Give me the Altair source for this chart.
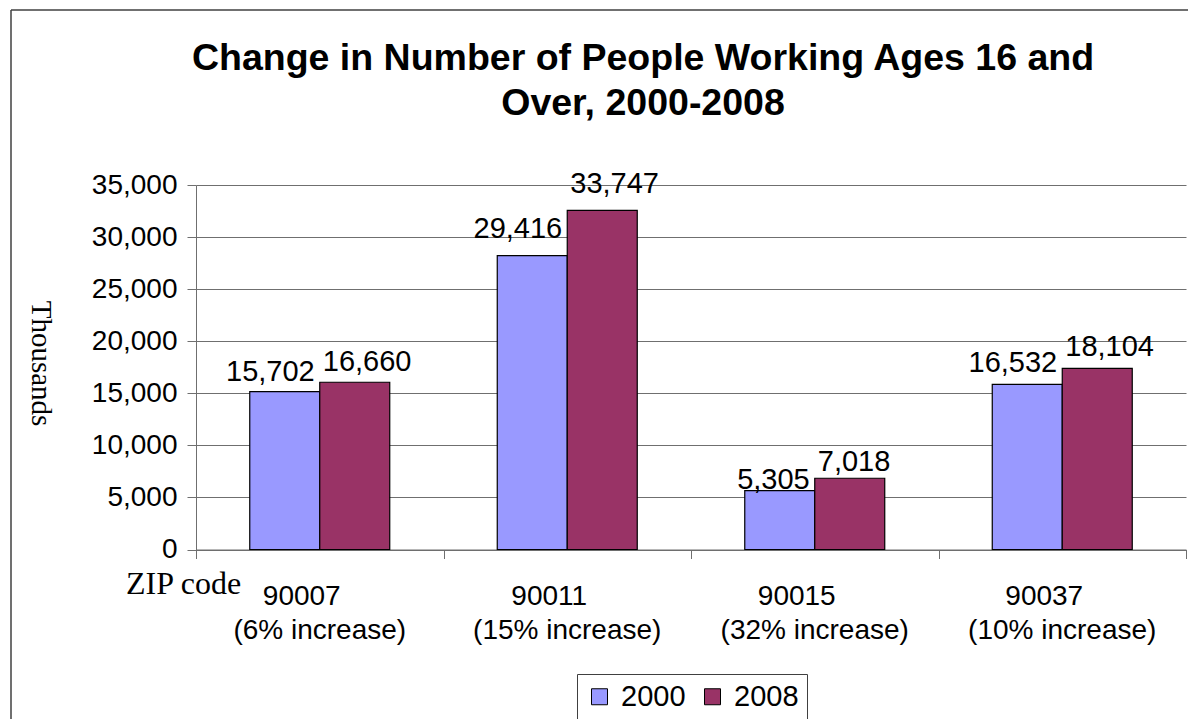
import altair as alt
import pandas as pd

# ---- data ----
ZIPS = ["90007", "90011", "90015", "90037"]
INCREASE = ["(6% increase)", "(15% increase)", "(32% increase)", "(10% increase)"]
YEARS = ["2000", "2008"]
# bar heights as drawn (thousands)
BAR_2000 = [15150, 28210, 5650, 15860]
BAR_2008 = [16060, 32570, 6840, 17400]
# value labels printed on the chart
LABEL_2000 = [15702, 29416, 5305, 16532]
LABEL_2008 = [16660, 33747, 7018, 18104]
Y_TICKS = [0, 5000, 10000, 15000, 20000, 25000, 30000, 35000]
TITLE = ["Change in Number of People Working Ages 16 and", "Over, 2000-2008"]
Y_TITLE = "Thousands"
X_TITLE = "ZIP code"
COLORS = ["#9999FF", "#993366"]

rows = []
for i, z in enumerate(ZIPS):
    rows.append({"zip": z, "year": "2000", "value": BAR_2000[i], "label": LABEL_2000[i]})
    rows.append({"zip": z, "year": "2008", "value": BAR_2008[i], "label": LABEL_2008[i]})
df = pd.DataFrame(rows)
cats = pd.DataFrame({"zip": ZIPS, "inc": INCREASE})
one = pd.DataFrame({"k": [0]})

SANS = "Liberation Sans"
SERIF = "Liberation Serif"
W, H = 990, 364.5
GRID = "#6f6f6f"

xscale = alt.Scale(domain=ZIPS, paddingInner=0, paddingOuter=0)
xoff_scale = alt.Scale(domain=YEARS, paddingInner=0, paddingOuter=0.768)
yscale = alt.Scale(domain=[0, 35000], nice=False)

x_enc = alt.X("zip:N", scale=xscale, sort=ZIPS,
              axis=alt.Axis(labels=False, title=None, tickBand="extent", tickSize=9,
                            tickColor=GRID, domainColor=GRID, grid=False))
y_enc = alt.Y("value:Q", scale=yscale,
              axis=alt.Axis(values=Y_TICKS, format=",.0f", grid=True, gridColor=GRID,
                            tickSize=9, tickColor=GRID, domainColor=GRID,
                            labelFont=SANS, labelFontSize=28, labelColor="black",
                            labelPadding=10,
                            title=Y_TITLE, titleFont=SERIF, titleFontSize=29,
                            titleFontWeight="normal", titleColor="black",
                            titleAngle=90, titleX=-156, titleY=178,
                            titleAlign="center", titleBaseline="middle"))

bars = alt.Chart(df).mark_bar(stroke="black", strokeWidth=1.2).encode(
    x=x_enc,
    xOffset=alt.XOffset("year:N", scale=xoff_scale, sort=YEARS),
    y=y_enc,
    color=alt.Color("year:N", sort=YEARS, scale=alt.Scale(domain=YEARS, range=COLORS),
                    legend=alt.Legend(title=None, orient="none", legendX=381, legendY=489,
                                      direction="horizontal", symbolType="square",
                                      symbolSize=256, symbolStrokeColor="black",
                                      symbolStrokeWidth=1, labelFont=SANS,
                                      labelFontSize=29, labelColor="black",
                                      labelOffset=7, columnPadding=12, padding=8,
                                      strokeColor="#404040", fillColor="white")),
)

lab_2000 = alt.Chart(df).transform_filter(alt.datum.year == "2000").mark_text(
    font=SANS, fontSize=29, color="black", align="right", baseline="alphabetic",
    dx=30, dy=-5
).encode(
    x=alt.X("zip:N", scale=xscale, sort=ZIPS),
    xOffset=alt.XOffset("year:N", scale=xoff_scale, sort=YEARS),
    y=alt.Y("label:Q", scale=yscale),
    text=alt.Text("label:Q", format=","),
)

lab_2008 = alt.Chart(df).transform_filter(alt.datum.year == "2008").mark_text(
    font=SANS, fontSize=29, color="black", align="left", baseline="alphabetic",
    dx=-32, dy=-5
).encode(
    x=alt.X("zip:N", scale=xscale, sort=ZIPS),
    xOffset=alt.XOffset("year:N", scale=xoff_scale, sort=YEARS),
    y=alt.Y("label:Q", scale=yscale),
    text=alt.Text("label:Q", format=","),
)

zip_text = alt.Chart(cats).mark_text(
    font=SANS, fontSize=28, color="black", align="center", baseline="alphabetic", dx=-18
).encode(
    x=alt.X("zip:N", scale=xscale, sort=ZIPS),
    y=alt.value(420),
    text="zip:N",
)

inc_text = alt.Chart(cats).mark_text(
    font=SANS, fontSize=28, color="black", align="center", baseline="alphabetic"
).encode(
    x=alt.X("zip:N", scale=xscale, sort=ZIPS),
    y=alt.value(454),
    text="inc:N",
)

zip_title = alt.Chart(one).mark_text(
    font=SERIF, fontSize=32, color="black", align="left", baseline="alphabetic",
    text=X_TITLE
).encode(x=alt.value(-70), y=alt.value(409))

title = alt.Chart(one).mark_text(
    font=SANS, fontSize=37.5, fontWeight="bold", color="black", align="center",
    baseline="alphabetic", text=TITLE, lineHeight=45
).encode(x=alt.value(447), y=alt.value(-115))

border_left = alt.Chart(one).mark_rule(color="#404040", strokeWidth=1.5).encode(
    x=alt.value(-185), y=alt.value(-175), y2=alt.value(540))
border_top = alt.Chart(one).mark_rule(color="#404040", strokeWidth=1.5).encode(
    y=alt.value(-175), x=alt.value(-185), x2=alt.value(1000))

chart = alt.layer(
    bars, lab_2000, lab_2008, zip_text, inc_text, zip_title, title, border_left, border_top
).properties(
    width=W, height=H,
    autosize=alt.AutoSizeParams(type="none"),
    padding={"left": 196, "top": 185, "right": 2, "bottom": 169.5},
    background="white",
).configure_view(stroke="transparent")

chart.save("out.html", embed_options={"renderer": "svg", "actions": False})
